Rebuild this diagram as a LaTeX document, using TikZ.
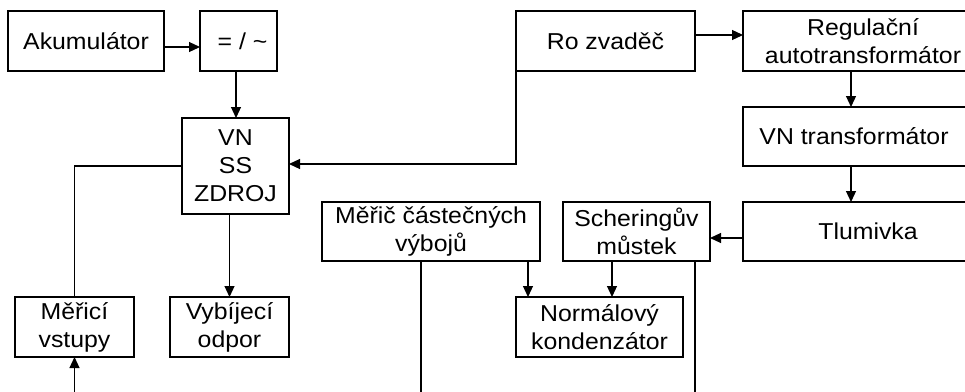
\documentclass[tikz,border=0pt]{standalone}
\usepackage{fontspec}
\setmainfont{Liberation Sans}[FakeStretch=1.08]
\usetikzlibrary{arrows.meta}
\newcommand\boxfont{\fontsize{23}{28}\selectfont}
\begin{document}
\begin{tikzpicture}[x=1pt,y=-1pt,
  box/.style={draw, line width=1.2pt, align=center, inner sep=0pt, outer sep=0pt, font=\boxfont},
  conn/.style={line width=1.2pt},
  arr/.style={conn, -{Triangle[length=11pt,width=10pt]}}]
\clip (0,0) rectangle (965,391);
\fill[white] (0,0) rectangle (965,391);
% nodes
\node[box, minimum width=156pt, minimum height=60pt] (akum) at (86,41) {Akumulátor};
\node[box, minimum width=77pt, minimum height=60pt] (conv) at (238.5,41) {\hspace*{8pt}= / \textasciitilde};
\node[box, minimum width=107pt, minimum height=96pt] (zdroj) at (235.5,166) {VN\\SS\\ZDROJ};
\node[box, minimum width=119pt, minimum height=60pt] (meri) at (74.5,327) {Měřicí\\vstupy};
\node[box, minimum width=119pt, minimum height=60pt] (vybij) at (229.5,327) {Vybíjecí\\odpor};
\node[box, minimum width=218pt, minimum height=59pt] (meric) at (431,231.5) {Měřič částečných\\výbojů};
\node[box, minimum width=147pt, minimum height=59pt] (schering) at (636.5,231.5) {Scheringův\\můstek};
\node[box, minimum width=167pt, minimum height=60pt] (normal) at (599.5,327) {Normálový\\kondenzátor};
\node[box, minimum width=179pt, minimum height=60pt] (rozv) at (605.5,41) {Ro zvaděč};
\node[box, minimum width=240pt, minimum height=60pt] (regul) at (863,41) {Regulační\\autotransformátor};
\node[box, minimum width=240pt, minimum height=59pt] (vntr) at (863,136.5) {\hspace*{-18pt}VN transformátor};
\node[box, minimum width=240pt, minimum height=59pt] (tlum) at (863,231.5) {\hspace*{10pt}Tlumivka};
% free ends at the bottom edge
\coordinate (mb) at (74.5,392);
\coordinate (m1) at (421,392);
\coordinate (m2) at (695,392);
% connectors
\draw[arr] ([yshift=-6pt]akum.east) -- ([yshift=-6pt]conv.west);
\draw[arr] ([xshift=-2.5pt]conv.south) -- ([xshift=-2.5pt]conv.south |- zdroj.north);
\draw[conn] (zdroj.west) -| (meri.north);
\draw[arr] (mb) -- (meri.south);
\draw[arr] (vybij.north |- zdroj.south) -- (vybij.north);
\draw[arr] (rozv.south west) |- ([yshift=2pt]zdroj.east);
\draw[arr] ([yshift=6pt]rozv.east) -- ([yshift=6pt]regul.west);
\draw[arr] ([xshift=-12pt]regul.south) -- ([xshift=-12pt]vntr.north);
\draw[arr] ([xshift=-12pt]vntr.south) -- ([xshift=-12pt]tlum.north);
\draw[arr] ([yshift=-6.5pt]tlum.west) -- ([yshift=-6.5pt]schering.east);
\draw[conn] (m1 |- meric.south) -- (m1);
\draw[conn] (m2 |- schering.south) -- (m2);
\draw[arr] ([xshift=12pt]normal.north west |- meric.south) -- ([xshift=12pt]normal.north west);
\draw[arr] ([xshift=12.5pt]normal.north |- schering.south) -- ([xshift=12.5pt]normal.north);
\end{tikzpicture}
\end{document}
